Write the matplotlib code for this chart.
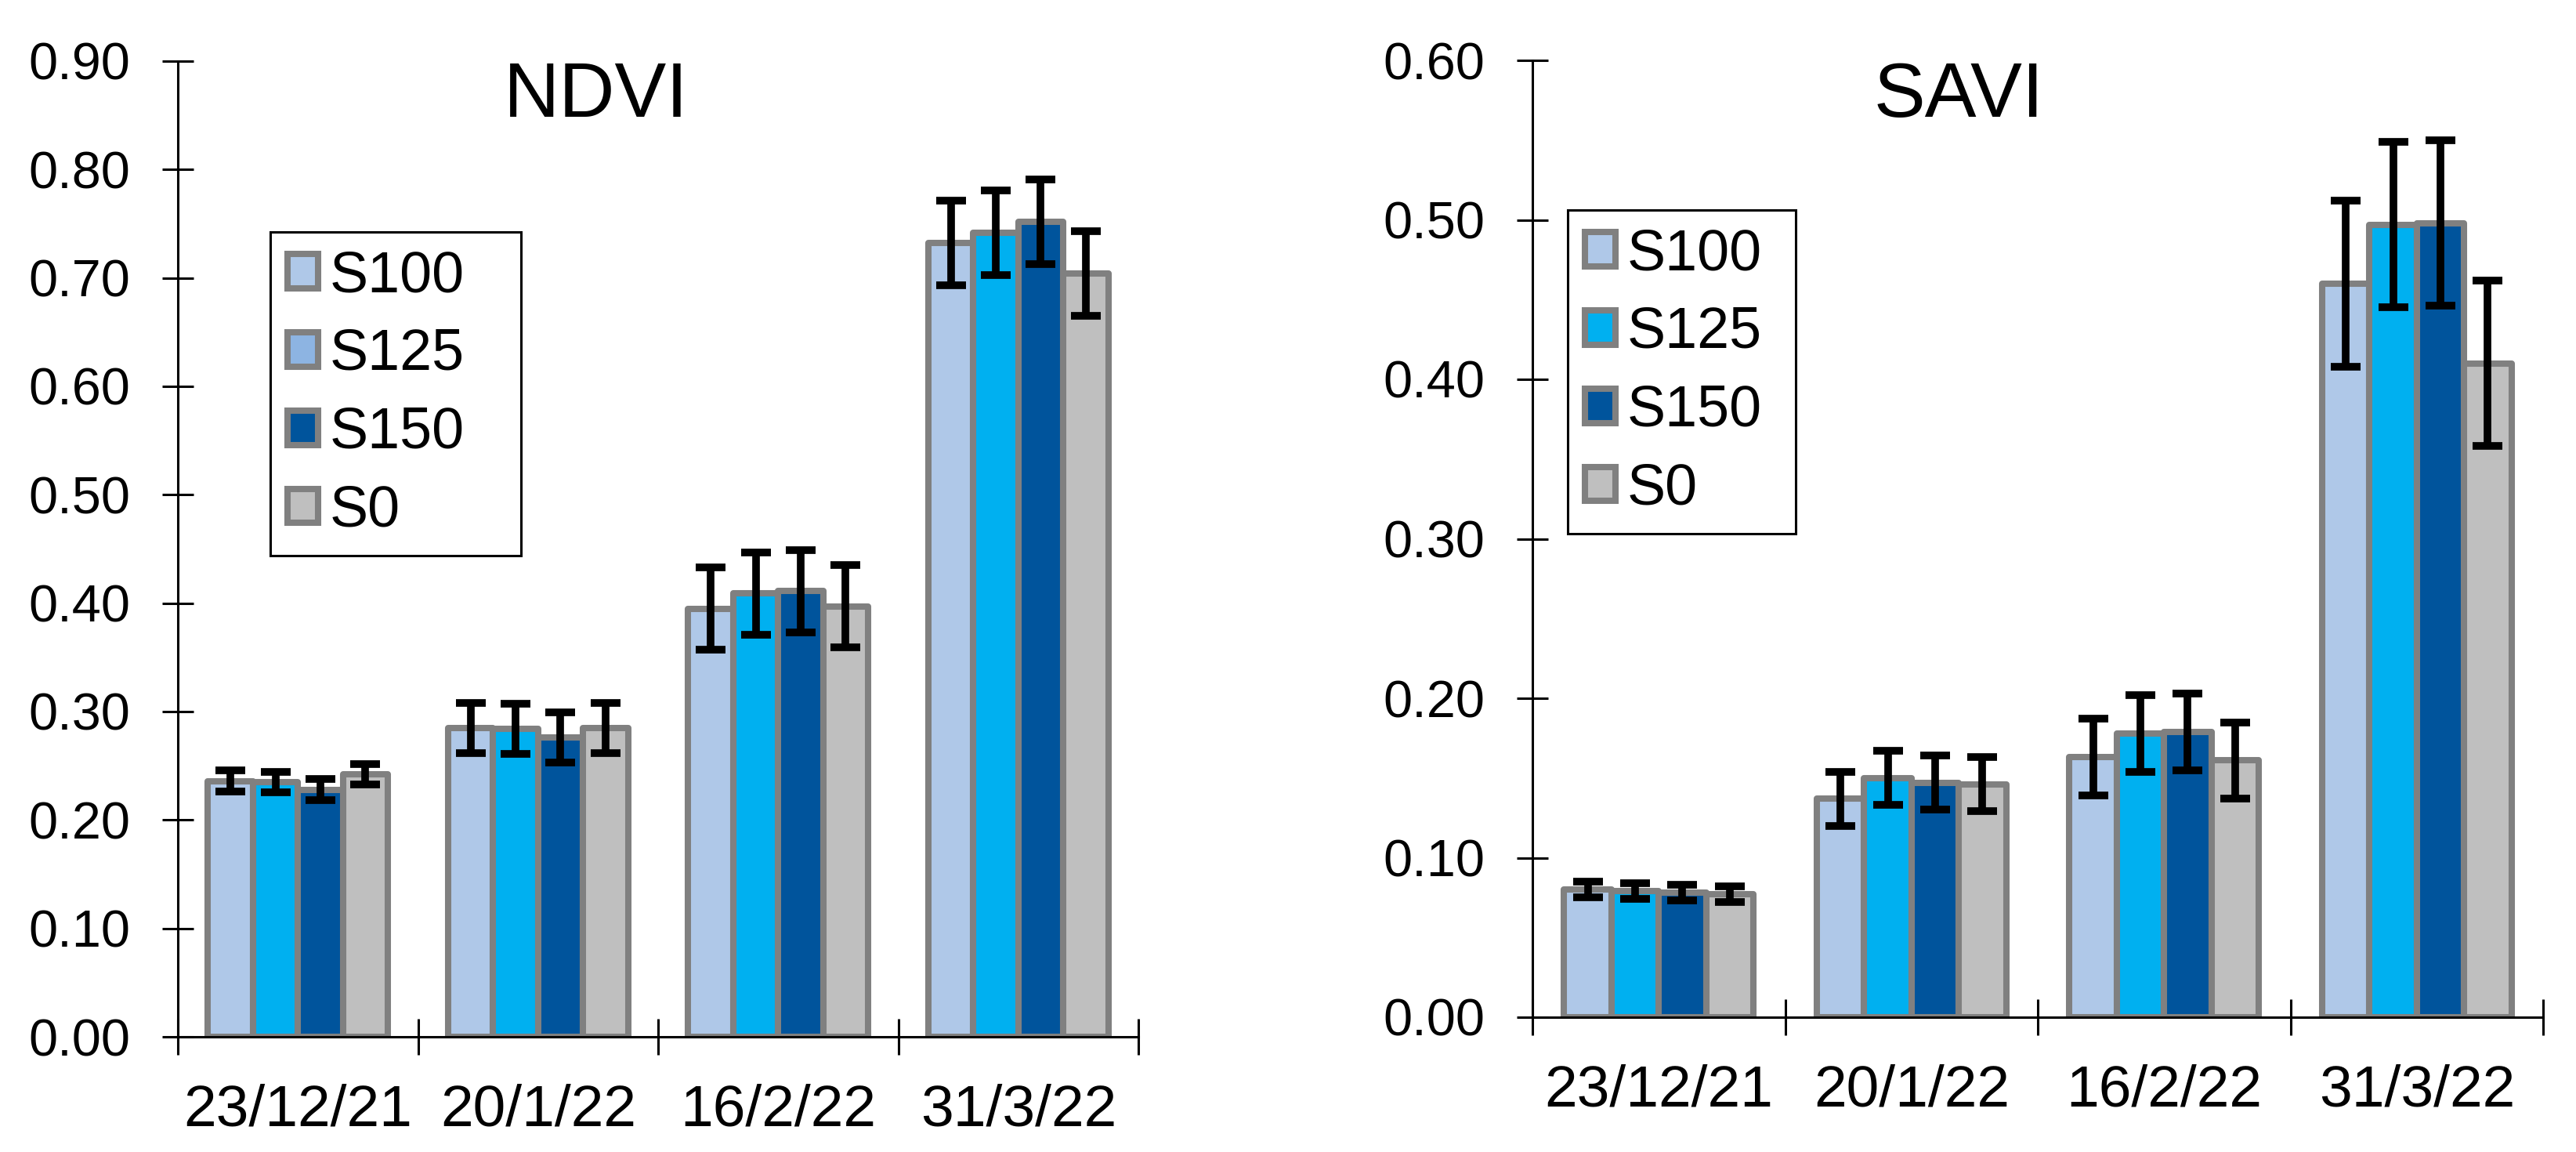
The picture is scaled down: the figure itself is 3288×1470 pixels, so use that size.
import matplotlib
matplotlib.use("Agg")
import matplotlib.pyplot as plt
from matplotlib.patches import Patch
import numpy as np

plt.rcParams['font.family'] = ['Liberation Sans', 'DejaVu Sans']

# data
dates = ['23/12/21', '20/1/22', '16/2/22', '31/3/22']
series = ['S100', 'S125', 'S150', 'S0']

ndvi_s100 = [0.236, 0.285, 0.395, 0.732]
ndvi_s125 = [0.235, 0.284, 0.409, 0.742]
ndvi_s150 = [0.228, 0.276, 0.411, 0.752]
ndvi_s0 = [0.242, 0.285, 0.397, 0.704]
ndvi_err = [0.0095, 0.023, 0.038, 0.039]

savi_s100 = [0.080, 0.137, 0.163, 0.460]
savi_s125 = [0.079, 0.150, 0.178, 0.497]
savi_s150 = [0.078, 0.147, 0.179, 0.498]
savi_s0 = [0.077, 0.146, 0.161, 0.410]
savi_err = [0.005, 0.017, 0.024, 0.052]

bar_colors = ['#AFC8E8', '#00B0F0', '#00549C', '#BFBFBF']
ndvi_legend_colors = ['#AFC8E8', '#8DB4E2', '#00549C', '#BFBFBF']
edge_gray = '#808080'

W, H = 3288, 1470
fig = plt.figure(figsize=(W / 100, H / 100), dpi=100)


def px_axes(l, t, r, b):
    return fig.add_axes([l / W, 1 - b / H, (r - l) / W, (b - t) / H])


def draw_panel(ax, values, err, ymax, yticks):
    x = np.arange(len(dates))
    bw = 0.75 / len(series)
    for k, vals in enumerate(values):
        xs = x + (k - 1.5) * bw
        ax.bar(xs, vals, width=bw, color=bar_colors[k], edgecolor=edge_gray,
               linewidth=5.8, joinstyle='round', zorder=1)
        ax.errorbar(xs, vals, yerr=err, fmt='none', ecolor='black',
                    elinewidth=7, capsize=13.5, capthick=7, zorder=3)

    ax.set_xlim(-0.5, len(dates) - 0.5)
    ax.set_ylim(0, ymax)

    # drop axis borders
    ax.spines['right'].set_visible(False)
    ax.spines['top'].set_visible(False)
    ax.spines['left'].set_linewidth(2.2)
    ax.spines['bottom'].set_linewidth(2.2)
    for s in ax.spines.values():
        s.set_zorder(4)

    # group separators as major ticks, date labels on minor ticks
    ax.set_xticks(np.arange(len(dates) + 1) - 0.5)
    ax.set_xticklabels([])
    ax.set_xticks(x, minor=True)
    ax.set_xticklabels(dates, minor=True)
    ax.tick_params(axis='x', which='major', direction='inout', length=33, width=2.2)
    ax.tick_params(axis='x', which='minor', length=0, pad=43, labelsize=54)

    ax.set_yticks(yticks)
    ax.set_yticklabels(['{:.2f}'.format(t) for t in yticks])
    ax.tick_params(axis='y', direction='inout', length=29, width=2.2, pad=29, labelsize=48)


def add_legend(ax, colors, x0, y0, x1):
    handles = [Patch(facecolor=c, edgecolor=edge_gray, linewidth=5.8, joinstyle='round')
               for c in colors]
    leg = ax.legend(handles, series, loc='upper left',
                    bbox_to_anchor=(x0 / W, 1 - y0 / H, (x1 - x0) / W, 0),
                    bbox_transform=fig.transFigure, mode='expand', borderaxespad=0,
                    fontsize=53, handlelength=0.53, handleheight=0.53,
                    handletextpad=0.2, labelspacing=0.42, borderpad=0.3,
                    fancybox=False, framealpha=1)
    leg.get_frame().set_edgecolor('black')
    leg.get_frame().set_linewidth(2.2)
    leg.set_zorder(5)


ax1 = px_axes(227, 78, 1453, 1323)
draw_panel(ax1, [ndvi_s100, ndvi_s125, ndvi_s150, ndvi_s0], ndvi_err, 0.9,
           np.round(np.arange(0, 0.91, 0.1), 2))
add_legend(ax1, ndvi_legend_colors, 345, 296, 665)
fig.text(761 / W, 1 - 149 / H, 'NDVI', ha='center', va='baseline', fontsize=71)

ax2 = px_axes(1956, 77, 3246, 1298)
draw_panel(ax2, [savi_s100, savi_s125, savi_s150, savi_s0], savi_err, 0.6,
           np.round(np.arange(0, 0.61, 0.1), 2))
add_legend(ax2, bar_colors, 2001, 268, 2292)
fig.text(2500 / W, 1 - 149 / H, 'SAVI', ha='center', va='baseline', fontsize=71)

fig.savefig('out.png', dpi=100, facecolor='white')
